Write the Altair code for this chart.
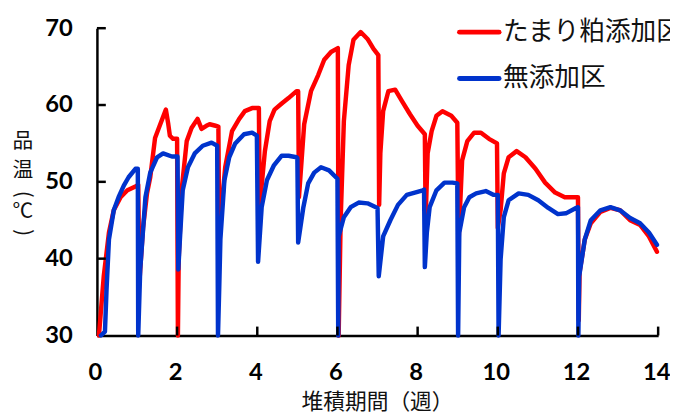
import altair as alt
import pandas as pd

red_name = "たまり粕添加区"
blue_name = "無添加区"

red_week = [0.05, 0.17, 0.30, 0.42, 0.59, 0.76, 0.96, 1.03,
            1.06, 1.15, 1.25, 1.33, 1.45, 1.58, 1.72, 1.78, 1.82, 1.90, 2.00,
            2.02, 2.04, 2.12, 2.24, 2.36, 2.51, 2.61, 2.73, 2.81, 2.96, 3.03,
            3.05, 3.20, 3.37, 3.55, 3.69, 3.87, 4.04,
            4.06, 4.19, 4.31, 4.43, 4.61, 4.78, 4.98, 5.02,
            5.04, 5.17, 5.34, 5.52, 5.67, 5.84, 6.01,
            6.03, 6.08, 6.16, 6.28, 6.40, 6.58, 6.75, 6.90, 7.02,
            7.04, 7.07, 7.14, 7.27, 7.44, 7.61, 7.81, 8.00, 8.18,
            8.20, 8.25, 8.35, 8.47, 8.62, 8.84, 8.99,
            9.02, 9.11, 9.24, 9.41, 9.58, 9.78, 9.98,
            10.00, 10.07, 10.15, 10.27, 10.47, 10.69, 10.94, 11.18, 11.43, 11.67, 11.95, 12.00,
            12.02, 12.04, 12.17, 12.32, 12.56, 12.81, 13.05, 13.30, 13.55, 13.77, 13.97]
red_temp = [30.0, 37.7, 43.4, 46.3, 48.0, 48.9, 49.4, 49.6,
            37.0, 44.0, 48.5, 50.6, 55.7, 57.5, 59.4, 57.5, 56.0, 55.6, 55.6,
            30.0, 40.0, 49.3, 55.3, 57.0, 58.2, 56.9, 57.3, 57.5, 57.3, 57.2,
            43.2, 51.9, 56.6, 58.2, 59.2, 59.6, 59.6,
            46.8, 54.0, 57.9, 59.4, 60.2, 60.9, 61.8, 61.8,
            48.0, 57.5, 61.8, 63.9, 65.9, 66.9, 67.4,
            30.0, 45.0, 57.9, 65.2, 68.5, 69.5, 68.6, 67.3, 66.5,
            47.0, 53.7, 59.2, 61.8, 62.0, 60.5, 58.8, 57.3, 56.2,
            45.0, 53.7, 56.6, 58.6, 59.2, 58.6, 57.7,
            42.0, 52.8, 55.3, 56.4, 56.4, 55.6, 55.0,
            44.0, 46.3, 51.1, 53.2, 54.0, 53.2, 51.7, 49.9, 48.6, 48.0, 48.0, 48.0,
            32.0, 38.2, 42.5, 44.6, 46.1, 46.6, 46.3, 45.0, 44.4, 42.9, 40.9]

blue_week = [0.10, 0.20, 0.24, 0.30, 0.42, 0.54, 0.67, 0.79, 0.96, 1.02,
             1.03, 1.08, 1.21, 1.33, 1.50, 1.65, 1.87, 2.01,
             2.03, 2.07, 2.14, 2.27, 2.44, 2.64, 2.86, 3.00,
             3.02, 3.05, 3.08, 3.18, 3.30, 3.45, 3.67, 3.87, 3.99,
             4.02, 4.11, 4.24, 4.41, 4.61, 4.78, 4.98, 5.00,
             5.02, 5.15, 5.27, 5.42, 5.59, 5.79, 6.00,
             6.02, 6.03, 6.16, 6.33, 6.53, 6.75, 7.00,
             7.03, 7.14, 7.32, 7.51, 7.73, 7.93, 8.13, 8.16,
             8.18, 8.23, 8.30, 8.47, 8.67, 8.87, 8.99,
             9.01, 9.04, 9.16, 9.29, 9.46, 9.70, 9.90, 10.00,
             10.02, 10.07, 10.15, 10.27, 10.52, 10.76, 11.01, 11.26, 11.50, 11.70, 11.95, 12.00,
             12.01, 12.03, 12.17, 12.32, 12.56, 12.81, 13.05, 13.30, 13.55, 13.77, 13.97]
blue_temp = [30.0, 30.5, 36.0, 42.5, 46.3, 48.0, 49.5, 50.6, 51.7, 51.7,
             30.0, 38.6, 48.0, 51.2, 53.2, 53.7, 53.3, 53.3,
             38.6, 42.5, 48.9, 51.9, 53.7, 54.7, 55.1, 54.7,
             30.0, 36.0, 42.5, 50.2, 53.2, 55.0, 56.2, 56.4, 56.0,
             39.6, 46.7, 50.2, 52.1, 53.4, 53.4, 53.2, 53.1,
             42.1, 46.7, 49.8, 51.2, 51.9, 51.5, 50.4,
             30.0, 42.9, 45.4, 46.7, 47.3, 47.2, 46.6,
             37.7, 42.9, 45.0, 47.0, 48.3, 48.6, 48.9, 49.0,
             38.9, 43.4, 46.7, 48.9, 49.9, 49.9, 49.8,
             30.0, 43.4, 46.7, 48.0, 48.5, 48.8, 48.3, 48.3,
             30.0, 39.9, 45.4, 47.6, 48.5, 48.3, 47.6, 46.6, 45.8, 45.9, 46.6, 46.7,
             30.0, 37.7, 42.5, 45.0, 46.3, 46.7, 46.3, 45.3, 44.6, 43.4, 41.8]

x_ticks = [0, 2, 4, 6, 8, 10, 12, 14]
y_ticks = [30, 40, 50, 60, 70]
series_colors = ["#FF0000", "#0033CC"]
x_title = "堆積期間（週）"
y_title_chars = ["品", "温", "(", "℃", ")"]

W, H = 568, 311

red_df = pd.DataFrame({"week": red_week, "temp": red_temp, "idx": range(len(red_week))})
blue_df = pd.DataFrame({"week": blue_week, "temp": blue_temp, "idx": range(len(blue_week))})

xs = alt.Scale(domain=[0, 14], nice=False, zero=False)
ys = alt.Scale(domain=[30, 70], nice=False, zero=False)

axis_common = dict(labelFont="Lato", labelFontWeight="bold", labelFontSize=24, labelColor="black",
                   ticks=False, grid=False, domain=True, domainColor="black", domainWidth=2.5,
                   labelOverlap=False, title=None)

red_line = alt.Chart(red_df).mark_line(color=series_colors[0], strokeWidth=4.5,
                                       strokeJoin="round", strokeCap="round").encode(
    x=alt.X("week:Q", scale=xs, axis=alt.Axis(values=x_ticks, labelPadding=26, labelOffset=-2,
                                              labelFlush=False, **axis_common)),
    y=alt.Y("temp:Q", scale=ys, axis=alt.Axis(values=y_ticks, labelPadding=25,
                                              labelFlush=False, **axis_common)),
    order="idx:Q",
)
blue_line = alt.Chart(blue_df).mark_line(color=series_colors[1], strokeWidth=4.5,
                                         strokeJoin="round", strokeCap="round").encode(
    x=alt.X("week:Q", scale=xs), y=alt.Y("temp:Q", scale=ys), order="idx:Q",
)

ytick_df = pd.DataFrame({"temp": y_ticks[1:]})
xtick_df = pd.DataFrame({"week": x_ticks[1:]})
ytick = alt.Chart(ytick_df).mark_rule(color="black", strokeWidth=2.5).encode(
    y=alt.Y("temp:Q", scale=ys), x=alt.value(0), x2=alt.value(9))
xtick = alt.Chart(xtick_df).mark_rule(color="black", strokeWidth=2.5).encode(
    x=alt.X("week:Q", scale=xs), y=alt.value(H), y2=alt.value(H - 9))

one = pd.DataFrame({"a": [0]})
layers = [red_line, blue_line, ytick, xtick]

# legend
leg_y = [4, 51]
for name, col, yy in zip([red_name, blue_name], series_colors, leg_y):
    layers.append(alt.Chart(one).mark_rule(color=col, strokeWidth=5, strokeCap="round").encode(
        x=alt.value(367), x2=alt.value(407), y=alt.value(yy)))
    layers.append(alt.Chart(one).mark_text(text=name, font="Noto Sans CJK JP", fontSize=26,
                                           color="#111111", align="left", baseline="middle").encode(
        x=alt.value(411), y=alt.value(yy)))

# x title
layers.append(alt.Chart(one).mark_text(text=x_title, font="Noto Sans CJK JP", fontSize=22,
                                       color="#111111", align="center", baseline="middle").encode(
    x=alt.value(W / 2), y=alt.value(378)))

# y title (vertical, parentheses turned)
for ch, yy, ang in zip(y_title_chars, [115, 145, 168, 186, 207], [0, 0, 90, 0, 90]):
    layers.append(alt.Chart(one).mark_text(text=ch, font="Noto Sans CJK JP", fontSize=21,
                                           color="#111111", align="center", baseline="middle",
                                           angle=ang).encode(
        x=alt.value(-75), y=alt.value(yy)))

chart = alt.layer(*layers).properties(
    width=W, height=H,
    autosize=alt.AutoSizeParams(type="none"),
    padding={"left": 90, "top": 18, "right": 12, "bottom": 75},
).configure_view(stroke=None)

chart.save("out.html", embed_options={"renderer": "svg", "actions": False})
